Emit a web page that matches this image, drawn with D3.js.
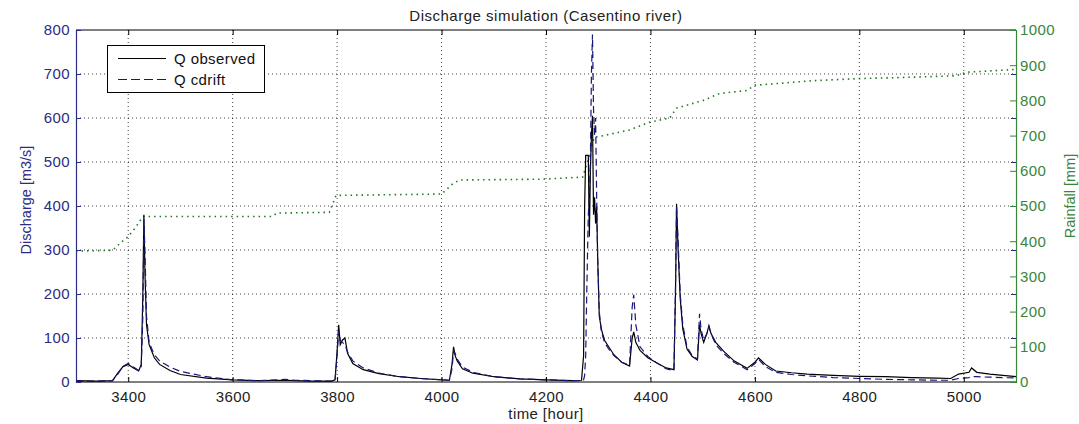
<!DOCTYPE html>
<html><head><meta charset="utf-8">
<script src="https://cdn.jsdelivr.net/npm/d3@7"></script>
<style>body{margin:0;background:#fff;} text{font-family:"Liberation Sans",Arial,Helvetica,sans-serif;}</style>
</head><body><svg id="c" width="1079" height="424"></svg>
<script>
const timeHours = [3300,3340,3370,3380,3390,3400,3410,3420,3425,3428,3430,3432,3435,3440,3450,3460,3480,3500,3550,3600,3650,3700,3720,3750,3790,3796,3800,3803,3806,3810,3815,3820,3830,3850,3880,3920,3960,4000,4015,4020,4023,4026,4030,4040,4060,4100,4150,4200,4250,4268,4272,4274,4276,4278,4281,4283,4285,4287,4289,4291,4293,4295,4297,4299,4302,4306,4312,4320,4330,4345,4360,4365,4368,4372,4380,4395,4410,4430,4445,4448,4450,4453,4457,4462,4470,4480,4490,4494,4497,4502,4508,4512,4516,4525,4540,4560,4585,4600,4607,4620,4640,4670,4700,4750,4800,4850,4900,4950,4975,4990,5010,5015,5025,5050,5075,5100];
const qObserved = [3,2,3,20,35,40,32,25,40,200,380,250,130,85,55,40,26,17,9,5,3,4,3,2,2,5,70,130,85,95,100,65,42,28,19,12,8,5,4,40,80,60,48,30,20,12,7,5,3,4,60,400,515,515,515,330,480,560,605,380,420,360,400,280,150,120,95,80,62,45,36,100,114,90,72,55,45,32,28,200,405,300,190,120,75,58,50,130,110,90,110,128,110,90,70,48,31,45,55,40,25,21,18,15,13,12,10,9,8,18,22,32,22,18,15,12];
const qCdrift = [2,2,3,18,36,42,34,26,35,150,370,300,150,90,62,48,34,24,12,5,3,6,4,3,2,3,60,115,95,90,85,68,48,32,20,12,8,5,4,30,70,65,52,34,22,12,7,5,3,3,5,15,60,200,380,420,500,700,790,620,560,600,420,280,160,115,90,75,60,45,38,170,198,130,80,58,45,30,26,220,400,320,200,130,80,60,52,155,120,95,110,125,110,85,65,45,28,42,52,35,22,17,14,10,8,6,5,4,4,8,10,12,12,11,10,9];
const rainHours = [3300,3370,3385,3400,3415,3428,3675,3685,3785,3798,4000,4022,4035,4190,4270,4285,4292,4310,4360,4398,4437,4450,4501,4533,4584,4600,4711,4801,4902,4985,5005,5100];
const rainCumulative = [372,374,395,413,441,470,470,480,482,530,534,564,574,576,582,650,695,700,716,738,750,778,800,820,828,843,856,862,866,870,880,888];
const xTicks = [3400,3600,3800,4000,4200,4400,4600,4800,5000];
const dischargeTicks = [0,100,200,300,400,500,600,700,800];
const rainfallTicks = [0,100,200,300,400,500,600,700,800,900,1000];
const seriesNames = ["Q observed","Q cdrift"];

const L=76,R=1016,T=30,B=382;
const blueC="#2b2b85", greenC="#3a853a", dashC="#16167a";
const FF="Liberation Sans, Arial, sans-serif";
const svg=d3.select("#c");
const x=d3.scaleLinear().domain([3300,5100]).range([L,R]);
const yL=d3.scaleLinear().domain([0,800]).range([B,T]);
const yR=d3.scaleLinear().domain([0,1000]).range([B,T]);

// grid
const g=svg.append("g");
g.selectAll(".vg").data(xTicks).join("line").attr("x1",d=>x(d)).attr("x2",d=>x(d)).attr("y1",T).attr("y2",B)
 .attr("stroke","#000").attr("stroke-width",1).attr("stroke-dasharray","1,3").attr("opacity",0.75);
g.selectAll(".hg").data(dischargeTicks.slice(1,-1)).join("line").attr("y1",d=>yL(d)).attr("y2",d=>yL(d)).attr("x1",L).attr("x2",R)
 .attr("stroke","#000").attr("stroke-width",1).attr("stroke-dasharray","1,3").attr("opacity",0.75);

// rainfall
svg.append("path").datum(rainHours.map((h,i)=>[h,rainCumulative[i]]))
 .attr("d",d3.line().x(d=>x(d[0])).y(d=>yR(d[1])))
 .attr("fill","none").attr("stroke","#1f7a1f").attr("stroke-width",1.6).attr("stroke-dasharray","1.5,4");

// discharge lines
const line=d3.line().x((d,i)=>x(timeHours[i])).y(d=>yL(d));
svg.append("path").datum(qObserved).attr("d",line).attr("fill","none").attr("stroke","#000").attr("stroke-width",1.2);
svg.append("path").datum(qCdrift).attr("d",line).attr("fill","none").attr("stroke",dashC).attr("stroke-width",1.2).attr("stroke-dasharray","7,4");

// axes
const fs="15px", ls="0.4px";
const ax=svg.append("g").attr("transform",`translate(0,${B})`).call(d3.axisBottom(x).tickValues(xTicks).tickSize(-5).tickPadding(9).tickFormat(d3.format("d")));
ax.select(".domain").remove();
ax.selectAll("line").attr("stroke","#000");
ax.selectAll("text").attr("font-size",fs).attr("letter-spacing",ls).attr("fill","#222").attr("font-family",FF);
const axT=svg.append("g").attr("transform",`translate(0,${T})`).call(d3.axisTop(x).tickValues(xTicks).tickSize(-5).tickFormat(""));
axT.select(".domain").remove(); axT.selectAll("line").attr("stroke","#000");
svg.append("line").attr("x1",L).attr("x2",R).attr("y1",T).attr("y2",T).attr("stroke","#000");
svg.append("line").attr("x1",L).attr("x2",R).attr("y1",B).attr("y2",B).attr("stroke","#000");

const ayL=svg.append("g").attr("transform",`translate(${L},0)`).call(d3.axisLeft(yL).tickValues(dischargeTicks).tickSize(-5).tickPadding(6).tickFormat(d3.format("d")));
ayL.select(".domain").attr("stroke",blueC).attr("stroke-width",1.2);
ayL.selectAll("line").attr("stroke",blueC);
ayL.selectAll("text").attr("font-size",fs).attr("letter-spacing",ls).attr("fill",blueC).attr("font-family",FF);
const ayL2=svg.append("g").attr("transform",`translate(${R},0)`).call(d3.axisRight(yL).tickValues(dischargeTicks).tickSize(-5).tickFormat(""));
ayL2.select(".domain").remove(); ayL2.selectAll("line").attr("stroke",blueC);

const ayR=svg.append("g").attr("transform",`translate(${R},0)`).call(d3.axisRight(yR).tickValues(rainfallTicks).tickSize(-6).tickPadding(4).tickFormat(d3.format("d")));
ayR.select(".domain").attr("stroke",greenC).attr("stroke-width",1.2);
ayR.selectAll("line").attr("stroke",greenC);
ayR.selectAll("text").attr("font-size",fs).attr("letter-spacing",ls).attr("fill",greenC).attr("font-family",FF);

// titles
svg.append("text").attr("x",(L+R)/2).attr("y",20.5).attr("text-anchor","middle").attr("font-size",fs).attr("letter-spacing","0.5px").attr("fill","#222").text("Discharge simulation (Casentino river)");
svg.append("text").attr("x",(L+R)/2).attr("y",419).attr("text-anchor","middle").attr("font-size",fs).attr("letter-spacing",ls).attr("fill","#222").text("time [hour]");
svg.append("text").attr("transform",`translate(31,200) rotate(-90)`).attr("text-anchor","middle").attr("font-size","14.5px").attr("fill",blueC).text("Discharge [m3/s]");
svg.append("text").attr("transform",`translate(1075,196) rotate(-90)`).attr("text-anchor","middle").attr("font-size","14.5px").attr("fill",greenC).text("Rainfall [mm]");

// legend
const lg=svg.append("g");
lg.append("rect").attr("x",107.5).attr("y",45.5).attr("width",157).attr("height",47).attr("fill","#fff").attr("stroke","#000");
const styles=[{s:"#000",d:null},{s:dashC,d:"9,4"}];
seriesNames.forEach((n,i)=>{
  const yy=58.5+i*21;
  lg.append("line").attr("x1",118).attr("x2",166).attr("y1",yy).attr("y2",yy).attr("stroke",styles[i].s).attr("stroke-width",1.2).attr("stroke-dasharray",styles[i].d);
  lg.append("text").attr("x",174).attr("y",yy+5.5).attr("font-size",fs).attr("letter-spacing",ls).attr("fill","#111").text(n);
});
</script></body></html>
